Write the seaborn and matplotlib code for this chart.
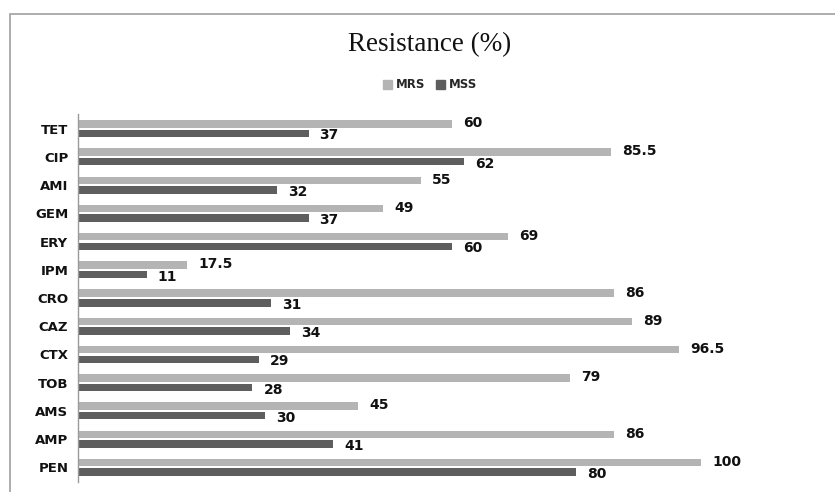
import matplotlib
matplotlib.use("Agg")
import matplotlib.pyplot as plt
import seaborn as sns
import pandas as pd
from matplotlib.patches import Rectangle

drugs = ["TET", "CIP", "AMI", "GEM", "ERY", "IPM", "CRO",
         "CAZ", "CTX", "TOB", "AMS", "AMP", "PEN"]
mrs = [60, 85.5, 55, 49, 69, 17.5, 86, 89, 96.5, 79, 45, 86, 100]
mss = [37, 62, 32, 37, 60, 11, 31, 34, 29, 28, 30, 41, 80]
groups = ["MRS", "MSS"]
colors = ["#b4b4b4", "#5e5e5e"]

df = pd.DataFrame({
    "drug": drugs * 2,
    "value": mrs + mss,
    "group": ["MRS"] * len(drugs) + ["MSS"] * len(drugs),
})

sns.set_style("white")
plt.rcParams["font.family"] = ["DejaVu Sans"]

fig = plt.figure(figsize=(8.35, 4.92), dpi=100)
ax = fig.add_axes([78 / 835, 1 - 481.5 / 492, 1 - 78 / 835, (481.5 - 114.5) / 492])

sns.barplot(data=df, x="value", y="drug", hue="group", order=drugs,
            hue_order=groups, palette=colors, orient="h", width=0.68,
            gap=0.22, legend=False, ax=ax, saturation=1, linewidth=0)

# MRS labels sit a little high, MSS labels a little low
offsets = [-0.5, 1.5]
for cont, dy in zip(ax.containers, offsets):
    labels = [f"{v:g}" for v in cont.datavalues]
    texts = ax.bar_label(cont, labels=labels, padding=8, fontsize=10,
                         fontweight="bold", color="#111111")
    for t in texts:
        x, y = t.xyann
        t.xyann = (x, y - dy)

ax.set_xlim(0, (835 - 78) / 6.23)
ax.set_ylim(12.5, -0.5)
ax.set_xlabel("")
ax.set_ylabel("")
ax.set_xticks([])
ax.tick_params(axis="y", length=0, pad=7)
for lbl in ax.get_yticklabels():
    lbl.set_fontsize(9.5)
    lbl.set_fontweight("bold")
    lbl.set_color("#111111")
for side in ["top", "right", "bottom"]:
    ax.spines[side].set_visible(False)
ax.spines["left"].set_color("#9a9a9a")
ax.spines["left"].set_linewidth(1)

# chart frame
fig.patches.append(Rectangle((10 / 835, -0.05), 1.1, 1 - 14 / 492 + 0.05,
                             transform=fig.transFigure, fill=False,
                             edgecolor="#a0a0a0", linewidth=1.2))

fig.text(430 / 835, 1 - 45 / 492, "Resistance (%)", ha="center", va="center",
         fontsize=19.5, family="Liberation Serif", color="#111111")

handles = [Rectangle((0, 0), 1, 1, color=c) for c in colors]
fig.legend(handles, groups, loc="center", bbox_to_anchor=(430 / 835, 1 - 85 / 492),
           ncol=2, frameon=False, handlelength=0.8, handleheight=0.8,
           handletextpad=0.3, columnspacing=0.9,
           prop={"size": 8.5, "weight": "bold"})

fig.savefig("out.png", dpi=100)
